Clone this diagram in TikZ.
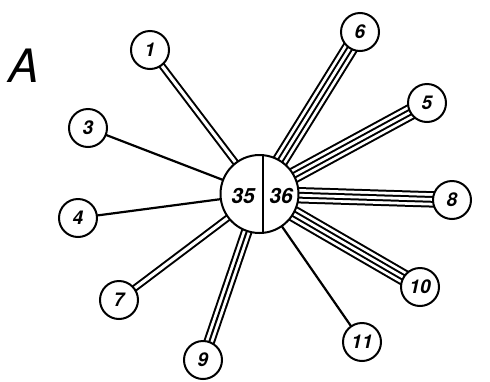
\documentclass[tikz,border=0pt]{standalone}
\usepackage{fontspec}
\setmainfont{TeX Gyre Heros}
\usetikzlibrary{backgrounds}
\begin{document}
\begin{tikzpicture}[x=1pt,y=-1pt,
  num/.style={circle, draw, line width=2pt, fill=white, minimum size=38pt, inner sep=0pt, font=\fontsize{19}{19}\selectfont\bfseries\itshape},
  hub/.style={circle, draw, line width=2pt, fill=white, minimum size=78pt, inner sep=0pt},
  hubtext/.style={inner sep=0pt, font=\fontsize{21}{21}\selectfont\bfseries\itshape},
  single/.style={line width=2.2pt},
  twin/.style={double, line width=2pt, double distance=3.2pt},
  triple/.style={line width=11.6pt, postaction={draw=white, line width=7.6pt}, postaction={draw=black, line width=2pt}},
  quad/.style={line width=16.4pt, postaction={draw=white, line width=12.4pt}, postaction={draw=black, line width=6.8pt}, postaction={draw=white, line width=2.8pt}},
]
\useasboundingbox (0,0) rectangle (490,381);

\node[font=\fontsize{46}{46}\selectfont\itshape, inner sep=0pt] (lbl) at (24,66) {A};

\node[hub] (c) at (259.5,194) {};
\draw[line width=2pt] (263,156) -- (263,232);
\node[hubtext] (t35) at (243,196) {35};
\node[hubtext] (t36) at (281,196) {36};

\node[num] (n1) at (150,50) {1};
\node[num] (n6) at (360,32) {6};
\node[num] (n5) at (427,103) {5};
\node[num] (n3) at (88,128) {3};
\node[num] (n4) at (78,218) {4};
\node[num] (n8) at (452,200) {8};
\node[num] (n7) at (119,300) {7};
\node[num] (n10) at (420,287) {10};
\node[num] (n9) at (203,360) {9};
\node[num] (n11) at (362,342) {11};

\begin{pgfonlayer}{background}
  \draw[twin] (c.center) -- (n1.center);
  \draw[quad] (c.center) -- (n6.center);
  \draw[quad] (c.center) -- (n5.center);
  \draw[single] (c.center) -- (n3.center);
  \draw[single] (c.center) -- (n4.center);
  \draw[quad] (c.center) -- (n8.center);
  \draw[twin] (c.center) -- (n7.center);
  \draw[quad] (c.center) -- (n10.center);
  \draw[triple] (c.center) -- (n9.center);
  \draw[single] (c.center) -- (n11.center);
\end{pgfonlayer}
\end{tikzpicture}
\end{document}
